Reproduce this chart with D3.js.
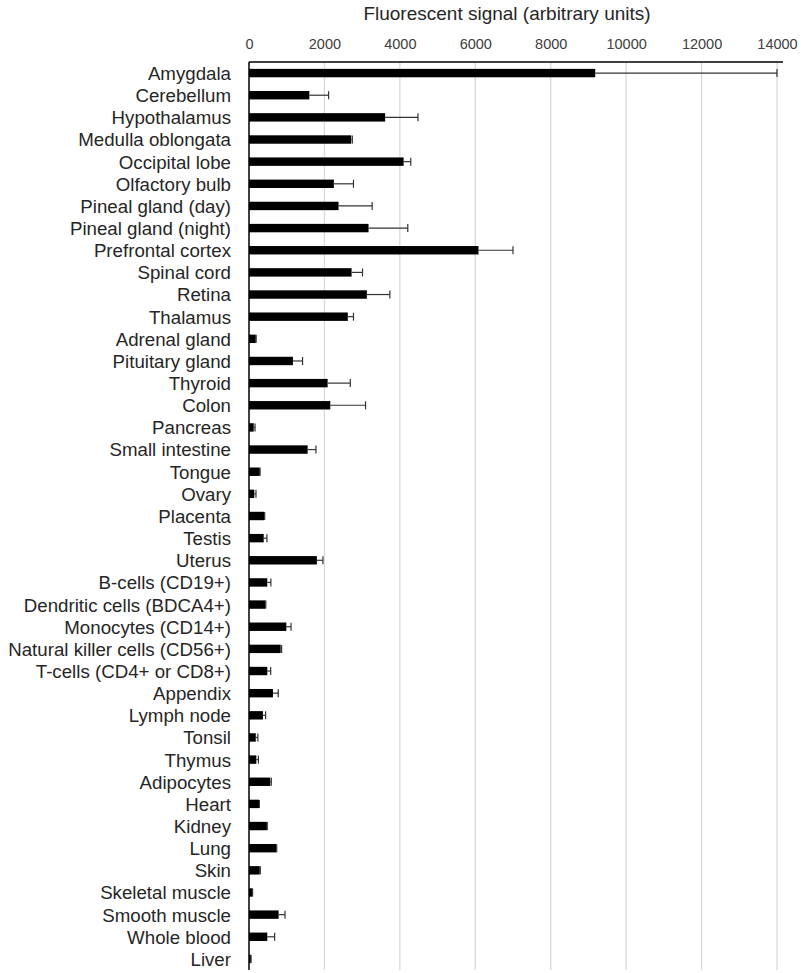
<!DOCTYPE html>
<html>
<head>
<meta charset="utf-8">
<script src="https://cdn.jsdelivr.net/npm/d3@7"></script>
<style>
  body { margin: 0; background: #fff; }
  text { font-family: "Liberation Sans", Arial, sans-serif; }
</style>
</head>
<body>
<script>
// Data
const tissues = [
  "Amygdala", "Cerebellum", "Hypothalamus", "Medulla oblongata", "Occipital lobe",
  "Olfactory bulb", "Pineal gland (day)", "Pineal gland (night)", "Prefrontal cortex",
  "Spinal cord", "Retina", "Thalamus", "Adrenal gland", "Pituitary gland", "Thyroid",
  "Colon", "Pancreas", "Small intestine", "Tongue", "Ovary", "Placenta", "Testis",
  "Uterus", "B-cells (CD19+)", "Dendritic cells (BDCA4+)", "Monocytes (CD14+)",
  "Natural killer cells (CD56+)", "T-cells (CD4+ or CD8+)", "Appendix", "Lymph node",
  "Tonsil", "Thymus", "Adipocytes", "Heart", "Kidney", "Lung", "Skin",
  "Skeletal muscle", "Smooth muscle", "Whole blood", "Liver"
];
const signal = [
  9180, 1600, 3610, 2710, 4100,
  2250, 2375, 3170, 6085,
  2720, 3125, 2620, 180, 1165, 2085,
  2155, 125, 1555, 285, 140, 405, 390,
  1800, 485, 435, 990,
  840, 485, 635, 370,
  180, 195, 565, 265, 475, 725, 285,
  90, 785, 485, 50
];
const errors = [
  4820, 510, 870, 30, 190,
  520, 890, 1040, 915,
  290, 610, 150, 10, 255, 600,
  935, 35, 220, 10, 45, 10, 85,
  160, 95, 10, 125,
  25, 90, 140, 70,
  55, 55, 27, 10, 10, 10, 15,
  5, 170, 195, 5
];
const xTicks = [0, 2000, 4000, 6000, 8000, 10000, 12000, 14000];

const width = 801;
const height = 973;
const margin = {top: 62, right: 24, bottom: 3, left: 249};

const svg = d3.select("body")
  .append("svg")
  .attr("width", width)
  .attr("height", height);

const x = d3.scaleLinear()
  .domain([0, 14000])
  .range([margin.left, 777]);

const y = d3.scaleBand()
  .domain(tissues)
  .range([margin.top, height - margin.bottom])
  .paddingInner(0.62)
  .paddingOuter(0.31);

// gridlines
svg.append("g")
  .selectAll("line")
  .data(xTicks.slice(1))
  .join("line")
  .attr("x1", d => x(d)).attr("x2", d => x(d))
  .attr("y1", margin.top).attr("y2", height - margin.bottom)
  .attr("stroke", "#d9d9d9")
  .attr("stroke-width", 1.3);

// top axis, labels only
const xAxis = d3.axisTop(x)
  .tickValues(xTicks)
  .tickFormat(d3.format("d"))
  .tickSize(0)
  .tickPadding(13);

svg.append("g")
  .attr("transform", `translate(0,${margin.top})`)
  .call(xAxis)
  .call(g => g.select(".domain").remove())
  .call(g => g.selectAll("text")
    .attr("font-size", "14.5px")
    .attr("fill", "#404040")
    .attr("font-family", "Liberation Sans, Arial, sans-serif"));

svg.append("text")
  .attr("x", 507)
  .attr("y", 20)
  .attr("text-anchor", "middle")
  .attr("font-size", "19px")
  .attr("fill", "#262626")
  .text("Fluorescent signal (arbitrary units)");

// bars
svg.append("g")
  .selectAll("rect")
  .data(tissues)
  .join("rect")
  .attr("x", x(0))
  .attr("y", d => y(d))
  .attr("width", (d, i) => x(signal[i]) - x(0))
  .attr("height", y.bandwidth())
  .attr("fill", "#000");

// error bars
const err = svg.append("g")
  .attr("stroke", "#333")
  .attr("stroke-width", 1.2);

err.selectAll("line.stem")
  .data(tissues)
  .join("line")
  .attr("class", "stem")
  .attr("x1", (d, i) => x(signal[i]))
  .attr("x2", (d, i) => x(signal[i] + errors[i]))
  .attr("y1", d => y(d) + y.bandwidth() / 2)
  .attr("y2", d => y(d) + y.bandwidth() / 2);

err.selectAll("line.cap")
  .data(tissues)
  .join("line")
  .attr("class", "cap")
  .attr("x1", (d, i) => x(signal[i] + errors[i]))
  .attr("x2", (d, i) => x(signal[i] + errors[i]))
  .attr("y1", d => y(d) + y.bandwidth() / 2 - 4)
  .attr("y2", d => y(d) + y.bandwidth() / 2 + 4);

// axis lines
svg.append("line")
  .attr("x1", x(0)).attr("x2", 783)
  .attr("y1", margin.top).attr("y2", margin.top)
  .attr("stroke", "#000")
  .attr("stroke-width", 1.5);

svg.append("line")
  .attr("x1", x(0)).attr("x2", x(0))
  .attr("y1", margin.top).attr("y2", height - margin.bottom)
  .attr("stroke", "#000")
  .attr("stroke-width", 1.5);

// category labels
svg.append("g")
  .selectAll("text")
  .data(tissues)
  .join("text")
  .attr("x", x(0) - 18)
  .attr("y", d => y(d) + y.bandwidth() / 2)
  .attr("dy", "0.37em")
  .attr("text-anchor", "end")
  .attr("font-size", "18.7px")
  .attr("fill", "#262626")
  .text(d => d);
</script>
</body>
</html>
